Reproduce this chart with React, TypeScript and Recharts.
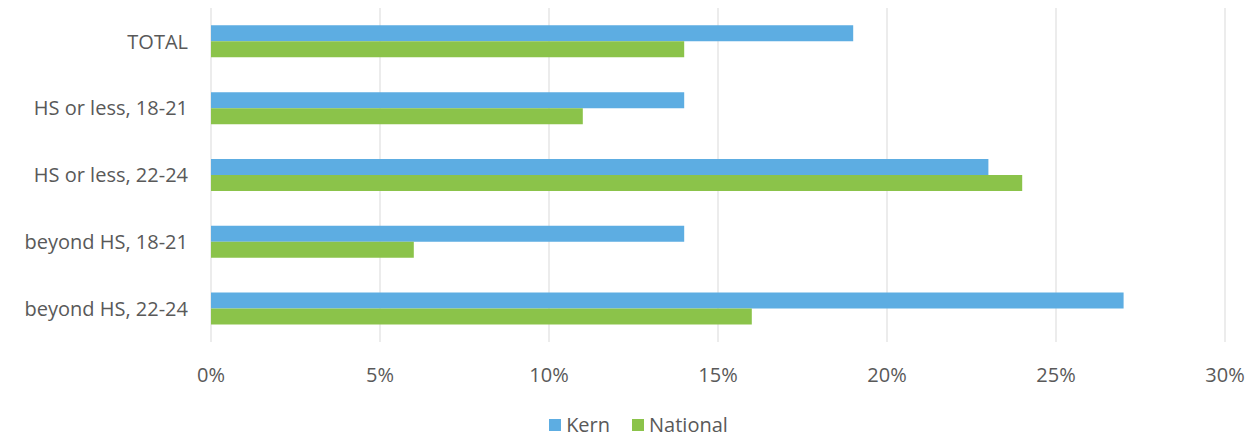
import { BarChart, Bar, XAxis, YAxis, CartesianGrid, Legend } from "recharts";

const categories = ["TOTAL", "HS or less, 18-21", "HS or less, 22-24", "beyond HS, 18-21", "beyond HS, 22-24"];
const kern = [19, 14, 23, 14, 27];
const national = [14, 11, 24, 6, 16];
const xTicks = [0, 5, 10, 15, 20, 25, 30];

const seriesColors = { Kern: "#5DADE2", National: "#8BC34A" };

const data = categories.map((name, i) => ({ name, Kern: kern[i], National: national[i] }));

const font = "'Open Sans', sans-serif";
const textColor = "#595959";

// custom legend so the spacing matches the original
function LegendContent() {
  return (
    <div style={{ display: "flex", justifyContent: "center", gap: "22px", paddingLeft: 52, fontFamily: font, fontSize: 20, color: textColor, lineHeight: "24px" }}>
      {(["Kern", "National"] as const).map((k) => (
        <div key={k} style={{ display: "flex", alignItems: "center" }}>
          <span style={{ width: 12, height: 12, background: seriesColors[k], display: "inline-block", marginRight: 5 }} />
          <span>{k}</span>
        </div>
      ))}
    </div>
  );
}

export default function App() {
  return (
    <div style={{ position: "absolute", left: 0, top: 0, background: "white" }}>
      <BarChart
        width={1255}
        height={437}
        data={data}
        layout="vertical"
        margin={{ top: 8, right: 30, left: 0, bottom: 0 }}
        barCategoryGap="26%"
        barGap={0}
      >
        <CartesianGrid horizontal={false} stroke="#d9d9d9" />
        <XAxis
          type="number"
          domain={[0, 30]}
          ticks={xTicks}
          tickFormatter={(v) => `${v}%`}
          axisLine={false}
          tickLine={false}
          tickMargin={20}
          height={71}
          tick={{ fontSize: 20, fill: textColor, fontFamily: font }}
        />
        <YAxis
          type="category"
          dataKey="name"
          width={211}
          axisLine={false}
          tickLine={false}
          tickSize={0}
          tickMargin={23}
          tick={{ fontSize: 20, fill: textColor, fontFamily: font }}
        />
        <Legend verticalAlign="bottom" height={24} content={<LegendContent />} />
        <Bar dataKey="Kern" fill={seriesColors.Kern} isAnimationActive={false} />
        <Bar dataKey="National" fill={seriesColors.National} isAnimationActive={false} />
      </BarChart>
    </div>
  );
}
